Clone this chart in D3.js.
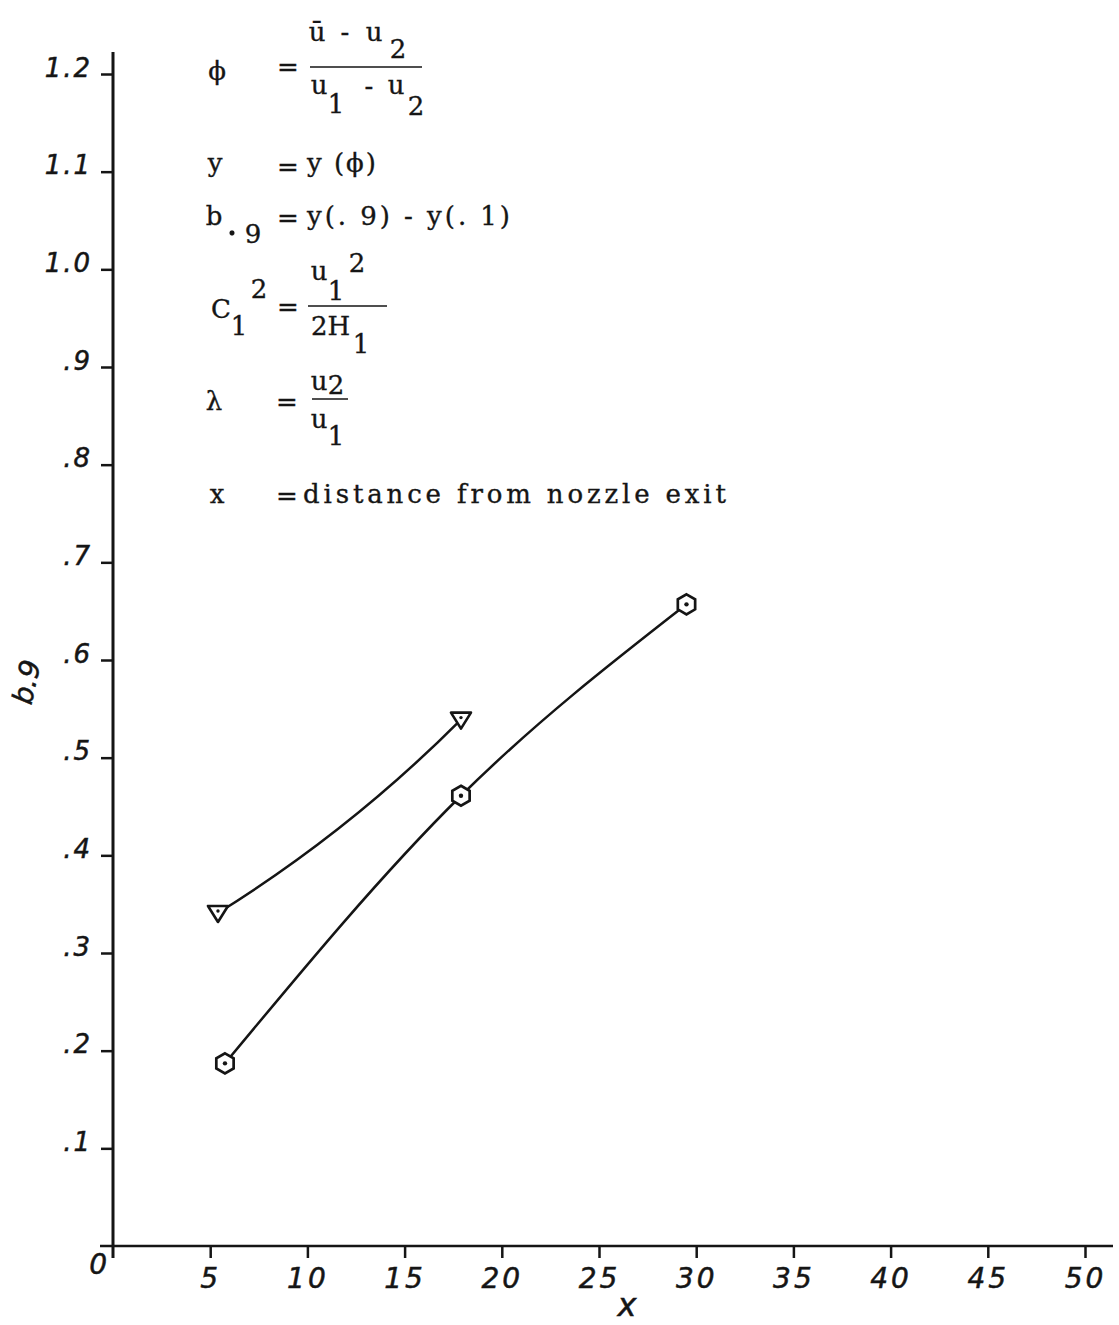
<!DOCTYPE html>
<html>
<head>
<meta charset="utf-8">
<script src="https://cdn.jsdelivr.net/npm/d3@7"></script>
<style>
  html, body { margin: 0; padding: 0; background: #fff; }
  svg { display: block; }
  .hand { font-family: "DejaVu Sans", sans-serif; font-style: italic; fill: #151515; stroke: #151515; stroke-width: 0.5px; }
  .type { font-family: "DejaVu Serif", serif; fill: #151515; font-size: 26px; stroke: #151515; stroke-width: 0.35px; }
</style>
</head>
<body>
<script>
// b.9 spread width versus distance from nozzle exit
const xTickValues = [5, 10, 15, 20, 25, 30, 35, 40, 45, 50];
const xTickLabels = ["5", "10", "15", "20", "25", "30", "35", "40", "45", "50"];
const yTickValues = [0.1, 0.2, 0.3, 0.4, 0.5, 0.6, 0.7, 0.8, 0.9, 1.0, 1.1, 1.2];
const yTickLabels = [".1", ".2", ".3", ".4", ".5", ".6", ".7", ".8", ".9", "1.0", "1.1", "1.2"];

// triangle series
const triX = [5.4, 17.9];
const triB = [0.341, 0.539];
// hexagon series
const hexX = [5.76, 17.9, 29.5];
const hexB = [0.187, 0.461, 0.657];

const W = 1119, H = 1325;
const svg = d3.select("body").append("svg").attr("width", W).attr("height", H);
svg.append("rect").attr("width", W).attr("height", H).attr("fill", "#fff");

const x = d3.scaleLinear().domain([0, 50]).range([113, 1085]);
const y = d3.scaleLinear().domain([0, 1.2]).range([1246, 74]);
const ink = "#151515";

// axes
const gx = svg.append("g").attr("transform", `translate(0,${y(0)})`)
  .call(d3.axisBottom(x).tickValues(xTickValues).tickSize(12)
    .tickFormat((d, i) => xTickLabels[i]));
gx.select(".domain").remove();
gx.selectAll(".tick line").attr("stroke", ink).attr("stroke-width", 2.5);
gx.selectAll(".tick text").attr("class", "hand").attr("font-size", 28)
  .attr("y", 42).attr("dy", 0).attr("letter-spacing", 3).attr("fill", ink);

const gy = svg.append("g").attr("transform", `translate(${x(0)},0)`)
  .call(d3.axisLeft(y).tickValues(yTickValues).tickSize(12)
    .tickFormat((d, i) => yTickLabels[i]));
gy.select(".domain").remove();
gy.selectAll(".tick line").attr("stroke", ink).attr("stroke-width", 2.5);
gy.selectAll(".tick text").attr("class", "hand").attr("font-size", 26)
  .attr("x", -21).attr("dy", 2).attr("letter-spacing", 2).attr("fill", ink)
  .attr("text-anchor", "end");

// axis lines, running a little past the scale ends
svg.append("line").attr("x1", x(0)).attr("x2", x(0))
  .attr("y1", y(1.2) - 22).attr("y2", y(0) + 12)
  .attr("stroke", ink).attr("stroke-width", 3);
svg.append("line").attr("x1", x(0) - 13).attr("x2", x(50) + 28)
  .attr("y1", y(0)).attr("y2", y(0))
  .attr("stroke", ink).attr("stroke-width", 2.6);

// origin label and axis titles
svg.append("text").attr("class", "hand").attr("font-size", 28)
  .attr("x", x(0) - 6).attr("y", y(0) + 28).attr("text-anchor", "end").text("0");
svg.append("text").attr("class", "hand").attr("font-size", 32)
  .attr("x", 627).attr("y", 1316).attr("text-anchor", "middle").text("x");
svg.append("text").attr("class", "hand").attr("font-size", 28)
  .attr("transform", "translate(36,684) rotate(-78)")
  .attr("text-anchor", "middle").text("b.9");

// curves
const hexPts = hexX.map((v, i) => [x(v), y(hexB[i])]);
const triPts = triX.map((v, i) => [x(v), y(triB[i])]);

svg.append("path")
  .attr("d", d3.line().curve(d3.curveMonotoneX)(hexPts))
  .attr("fill", "none").attr("stroke", ink).attr("stroke-width", 2.5);

// two-point series: drawn as a gentle arc bowing upward
function bowed(p0, p1, bow) {
  const mx = (p0[0] + p1[0]) / 2, my = (p0[1] + p1[1]) / 2;
  const dx = p1[0] - p0[0], dy = p1[1] - p0[1];
  const len = Math.hypot(dx, dy);
  const nx = dy / len, ny = -dx / len;
  const path = d3.path();
  path.moveTo(p0[0], p0[1]);
  path.quadraticCurveTo(mx + nx * bow, my + ny * bow, p1[0], p1[1]);
  return path.toString();
}
svg.append("path")
  .attr("d", bowed(triPts[0], triPts[1], -18))
  .attr("fill", "none").attr("stroke", ink).attr("stroke-width", 2.5);

// markers
const hexR = 10;
const hexPath = d3.range(6).map(i => {
  const a = (i * 60 - 90) * Math.PI / 180;
  return [hexR * Math.cos(a), hexR * Math.sin(a)];
});
const hexD = "M" + hexPath.map(p => p.join(",")).join("L") + "Z";
const gh = svg.selectAll(".hex").data(hexPts).join("g")
  .attr("transform", d => `translate(${d[0]},${d[1]})`);
gh.append("path").attr("d", hexD).attr("fill", "#fff")
  .attr("stroke", ink).attr("stroke-width", 2.7);
gh.append("circle").attr("r", 2.2).attr("fill", ink);

const triD = "M-10,-7L10,-7L0,9Z";
const gt = svg.selectAll(".tri").data(triPts).join("g")
  .attr("transform", d => `translate(${d[0]},${d[1]})`);
gt.append("path").attr("d", triD).attr("fill", "#fff")
  .attr("stroke", ink).attr("stroke-width", 2.6).attr("stroke-linejoin", "round");
gt.append("circle").attr("cy", -2).attr("r", 1.7).attr("fill", ink);

// definitions block
const defs = svg.append("g").attr("class", "type");
function t(str, px, py, anchor) {
  defs.append("text").attr("x", px).attr("y", py)
    .attr("text-anchor", anchor || "start").attr("letter-spacing", 2).text(str);
}
function bar(x1, x2, py) {
  defs.append("line").attr("x1", x1).attr("x2", x2).attr("y1", py).attr("y2", py)
    .attr("stroke", ink).attr("stroke-width", 1.7);
}
// phi
t("\u03d5", 218, 80, "middle");
t("=", 289, 76, "middle");
t("\u016b", 318, 41, "middle");
t("-", 346, 41, "middle");
t("u", 375, 41, "middle");
t("2", 399, 58, "middle");
bar(310, 422, 67);
t("u", 320, 94, "middle");
t("1", 337, 113, "middle");
t("-", 370, 95, "middle");
t("u", 397, 94, "middle");
t("2", 417, 115, "middle");
// y
t("y", 216, 172, "middle");
t("=", 289, 176, "middle");
t("y (\u03d5)", 307, 172);
// b.9
t("b", 215, 225, "middle");
defs.append("circle").attr("cx", 232).attr("cy", 233).attr("r", 2.4).attr("fill", ink);
t("9", 254, 243, "middle");
t("=", 289, 227, "middle");
defs.append("text").attr("x", 307).attr("y", 225)
  .attr("textLength", 203).attr("lengthAdjust", "spacing")
  .text("y(. 9) - y(. 1)");
// C1^2
t("C", 222, 318, "middle");
t("1", 240, 335, "middle");
t("2", 260, 298, "middle");
t("=", 289, 316, "middle");
t("u", 320, 280, "middle");
t("1", 337, 300, "middle");
t("2", 358, 272, "middle");
bar(308, 387, 306);
defs.append("text").attr("x", 311).attr("y", 335).text("2H");
t("1", 362, 353, "middle");
// lambda
t("\u03bb", 215, 410, "middle");
t("=", 288, 411, "middle");
t("u", 320, 390, "middle");
t("2", 337, 394, "middle");
bar(312, 348, 399);
t("u", 320, 428, "middle");
t("1", 337, 445, "middle");
// x
t("x", 218, 503, "middle");
t("=", 288, 505, "middle");
defs.append("text").attr("x", 303).attr("y", 503)
  .attr("textLength", 423).attr("lengthAdjust", "spacing")
  .text("distance from nozzle exit");
</script>
</body>
</html>
